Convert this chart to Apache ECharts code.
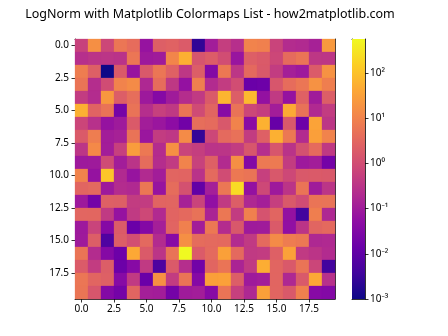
<!DOCTYPE html>
<html>
<head>
<meta charset="utf-8">
<script src="https://cdn.jsdelivr.net/npm/echarts@6/dist/echarts.min.js"></script>
<style>html,body{margin:0;padding:0;background:#fff}#c{width:448px;height:336px}</style>
</head>
<body>
<div id="c"></div>
<script>
const title = 'LogNorm with Matplotlib Colormaps List - how2matplotlib.com';
const axisTicks = [0, 2.5, 5, 7.5, 10, 12.5, 15, 17.5];
const cbarExponents = [-3, -2, -1, 0, 1, 2];
const plasma = ['#0d0887','#41049d','#6a00a8','#8f0da4','#b12a90','#cc4778','#e16462','#f2844b','#fca636','#fcce25','#f0f921'];

const row0  = [0.6, 16, 0.75, 6, 4, 0.07, 2.2, 2.6, 1.9, 0.0025, 0.11, 0.5, 0.25, 10, 9, 0.65, 0.22, 0.2, 0.13, 24];
const row1  = [0.25, 0.32, 0.33, 0.3, 6, 0.09, 0.1, 11, 55, 1.4, 2, 1, 0.075, 2.2, 1.8, 0.75, 3.8, 5.5, 0.36, 0.34];
const row2  = [8, 2.2, 0.001, 1.8, 0.072, 1.7, 6, 2.5, 0.36, 2.1, 0.035, 6.5, 0.34, 3.5, 1.7, 0.45, 0.12, 0.09, 1.9, 18];
const row3  = [5.5, 0.23, 0.95, 10, 14, 0.18, 4, 0.38, 0.065, 8.5, 0.21, 0.45, 1, 0.014, 0.016, 1.5, 4, 6, 18, 8.2];
const row4  = [0.45, 0.22, 22, 2.1, 4.2, 0.09, 0.037, 0.1, 0.23, 0.42, 1.8, 65, 2.1, 75, 0.063, 0.42, 0.068, 2.5, 0.1, 2.1];
const row5  = [55, 2.7, 5.3, 0.021, 5.2, 0.24, 0.55, 0.4, 5.5, 0.9, 2.9, 0.04, 5.3, 0.75, 0.5, 0.11, 45, 5, 0.19, 0.46];
const row6  = [0.7, 0.27, 0.068, 0.095, 1.8, 0.11, 0.08, 0.05, 0.018, 4.2, 3.8, 1.6, 10, 0.045, 58, 0.013, 1.6, 0.016, 35, 0.34];
const row7  = [1.8, 8, 0.11, 0.13, 5.3, 0.08, 0.45, 0.37, 14, 0.0026, 0.75, 3.6, 4.8, 0.45, 2.4, 55, 6.5, 0.21, 30, 10];
const row8  = [0.34, 13, 0.11, 0.55, 28, 6.5, 0.22, 17, 0.65, 0.5, 0.31, 0.33, 0.45, 1.5, 0.24, 1.5, 0.3, 1.2, 3.8, 0.4];
const row9  = [0.09, 0.095, 0.9, 0.11, 0.31, 3.9, 0.23, 0.43, 10, 0.6, 2.4, 0.21, 16, 0.035, 6.8, 7, 0.46, 0.09, 0.11, 0.02];
const row10 = [10, 0.068, 110, 0.2, 0.072, 0.2, 0.11, 2.9, 2.8, 0.3, 3.6, 0.95, 6.5, 5.5, 0.55, 1.6, 0.8, 1.7, 1.8, 1.7];
const row11 = [2.9, 3.4, 0.09, 0.22, 0.19, 6.3, 0.07, 3.9, 1.2, 0.011, 0.12, 6.3, 220, 0.063, 0.8, 0.09, 0.32, 5.5, 0.1, 0.33];
const row12 = [0.09, 0.02, 2.3, 2.2, 0.45, 0.45, 2.8, 2.9, 0.13, 0.65, 0.058, 0.42, 2.1, 0.18, 0.12, 0.52, 1.7, 0.95, 5.5, 5.4];
const row13 = [3, 3.1, 0.42, 0.068, 0.41, 0.8, 0.2, 2.8, 3.5, 5, 0.15, 6.2, 0.46, 8.8, 1.3, 2.9, 0.063, 0.004, 8.2, 0.18];
const row14 = [0.09, 0.65, 0.037, 1.9, 0.014, 0.035, 0.12, 2.8, 8.8, 0.11, 6.5, 0.22, 1.6, 0.095, 0.1, 1.8, 0.058, 0.32, 2.9, 3.5];
const row15 = [0.095, 2.1, 0.006, 2.1, 1.1, 3.4, 0.21, 0.04, 16, 3.9, 3.6, 3.5, 0.21, 0.41, 3.6, 14, 7.5, 6.4, 0.18, 0.19];
const row16 = [5.5, 0.22, 0.037, 0.016, 42, 1.8, 0.33, 5.2, 562, 1.9, 3.6, 32, 3.5, 0.41, 0.45, 2.4, 33, 0.42, 0.32, 0.21];
const row17 = [1.9, 0.45, 2.1, 0.015, 0.04, 0.41, 0.0055, 1.8, 0.24, 0.019, 2.9, 5.5, 0.15, 0.41, 50, 2.9, 1.7, 5.5, 0.72, 0.004];
const row18 = [6, 2.9, 2.3, 0.04, 0.41, 0.014, 17, 0.45, 5.5, 0.037, 32, 33, 2.1, 0.095, 0.11, 2.9, 0.18, 1.7, 42, 0.27];
const row19 = [5.8, 1.5, 0.035, 0.02, 2.9, 0.12, 0.11, 0.02, 0.1, 0.11, 0.04, 5.5, 0.55, 0.18, 32, 2.9, 1.7, 9, 0.04, 0.035];

const rows = [row0,row1,row2,row3,row4,row5,row6,row7,row8,row9,row10,row11,row12,row13,row14,row15,row16,row17,row18,row19];

const cells = [];
let vmin = Infinity, vmax = -Infinity;
rows.forEach((r, y) => r.forEach((v, x) => {
  cells.push([x, y, v, Math.log10(v)]);
  vmin = Math.min(vmin, v); vmax = Math.max(vmax, v);
}));
const lmin = Math.log10(vmin), lmax = Math.log10(vmax);

const minorTicks = [];
for (let e = -4; e <= 3; e++) for (let k = 2; k <= 9; k++) {
  const l = Math.log10(k * Math.pow(10, e));
  if (l >= lmin && l <= lmax) minorTicks.push(l);
}
const sup = {'-':'⁻','0':'⁰','1':'¹','2':'²','3':'³','4':'⁴','5':'⁵','6':'⁶','7':'⁷','8':'⁸','9':'⁹'};
const supStr = n => String(n).split('').map(c => sup[c]).join('');

const FONT = 'Noto Sans';
const chart = echarts.init(document.getElementById('c'), null, {renderer: 'canvas'});
const tickStyle = {show: true, length: 3.5, inside: false, lineStyle: {color: '#000', width: 0.8}};
chart.setOption({
  animation: false,
  backgroundColor: '#fff',
  title: {text: title, left: 205, textAlign: 'center', top: 3,
    textStyle: {fontFamily: FONT, fontSize: 12.5, fontWeight: 'normal', color: '#000'}},
  grid: [
    {left: 75, top: 39, width: 260, height: 260},
    {left: 352, top: 39, width: 13, height: 260}
  ],
  xAxis: [
    {type: 'value', gridIndex: 0, min: -0.5, max: 19.5, splitLine: {show: false},
     axisLine: {show: true, onZero: false, lineStyle: {color: '#000', width: 0.8}},
     axisTick: Object.assign({customValues: axisTicks}, tickStyle),
     axisLabel: {customValues: axisTicks, formatter: v => v.toFixed(1), color: '#000', fontFamily: FONT, fontSize: 10, margin: 5}},
    {type: 'value', gridIndex: 0, position: 'top', min: -0.5, max: 19.5, splitLine: {show: false},
     axisLine: {show: true, onZero: false, lineStyle: {color: '#000', width: 0.8}}, axisTick: {show: false}, axisLabel: {show: false}},
    {type: 'value', gridIndex: 1, min: 0, max: 1, splitLine: {show: false},
     axisLine: {show: true, onZero: false, lineStyle: {color: '#000', width: 0.8}}, axisTick: {show: false}, axisLabel: {show: false}},
    {type: 'value', gridIndex: 1, position: 'top', min: 0, max: 1, splitLine: {show: false},
     axisLine: {show: true, onZero: false, lineStyle: {color: '#000', width: 0.8}}, axisTick: {show: false}, axisLabel: {show: false}}
  ],
  yAxis: [
    {type: 'value', gridIndex: 0, inverse: true, min: -0.5, max: 19.5, splitLine: {show: false},
     axisLine: {show: true, onZero: false, lineStyle: {color: '#000', width: 0.8}},
     axisTick: Object.assign({customValues: axisTicks}, tickStyle),
     axisLabel: {customValues: axisTicks, formatter: v => v.toFixed(1), color: '#000', fontFamily: FONT, fontSize: 10, margin: 6}},
    {type: 'value', gridIndex: 0, position: 'right', inverse: true, min: -0.5, max: 19.5, splitLine: {show: false},
     axisLine: {show: true, onZero: false, lineStyle: {color: '#000', width: 0.8}}, axisTick: {show: false}, axisLabel: {show: false}},
    {type: 'value', gridIndex: 1, position: 'right', min: lmin, max: lmax, splitLine: {show: false},
     axisLine: {show: true, onZero: false, lineStyle: {color: '#000', width: 0.8}},
     axisTick: Object.assign({customValues: cbarExponents}, tickStyle),
     axisLabel: {customValues: cbarExponents, formatter: v => '10' + supStr(v), color: '#000', fontFamily: FONT, fontSize: 10, margin: 5}},
    {type: 'value', gridIndex: 1, position: 'right', min: lmin, max: lmax, splitLine: {show: false},
     axisLine: {show: false},
     axisTick: {show: true, customValues: minorTicks, length: 2, lineStyle: {color: '#000', width: 0.6}},
     axisLabel: {show: false}},
    {type: 'value', gridIndex: 1, position: 'left', min: lmin, max: lmax, splitLine: {show: false},
     axisLine: {show: true, onZero: false, lineStyle: {color: '#000', width: 0.8}}, axisTick: {show: false}, axisLabel: {show: false}}
  ],
  visualMap: {type: 'continuous', show: false, seriesIndex: 0, dimension: 3, min: lmin, max: lmax, inRange: {color: plasma}},
  series: [
    {type: 'custom', xAxisIndex: 0, yAxisIndex: 0, data: cells, encode: {x: 0, y: 1},
     renderItem: (params, api) => {
       const x = api.value(0), y = api.value(1);
       const p1 = api.coord([x - 0.5, y - 0.5]), p2 = api.coord([x + 0.5, y + 0.5]);
       return {type: 'rect', shape: {x: Math.min(p1[0], p2[0]), y: Math.min(p1[1], p2[1]),
         width: Math.abs(p2[0] - p1[0]), height: Math.abs(p2[1] - p1[1])},
         style: {fill: api.visual('color'), stroke: api.visual('color'), lineWidth: 0.3}};
     }, z: 1},
    {type: 'custom', xAxisIndex: 2, yAxisIndex: 2, data: [[0, lmin, 1, lmax]], encode: {x: [0, 2], y: [1, 3]},
     renderItem: (params, api) => {
       const a = api.coord([api.value(0), api.value(1)]), b = api.coord([api.value(2), api.value(3)]);
       const stops = plasma.map((c, i) => ({offset: i / (plasma.length - 1), color: c}));
       return {type: 'rect', shape: {x: a[0], y: b[1], width: b[0] - a[0], height: a[1] - b[1]},
         style: {fill: new echarts.graphic.LinearGradient(0, 1, 0, 0, stops)}};
     }, z: 1}
  ]
});
</script>
</body>
</html>
